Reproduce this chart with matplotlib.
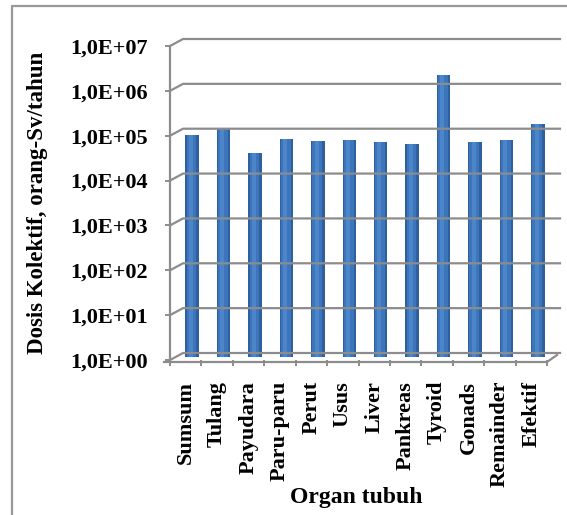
import matplotlib
matplotlib.use("Agg")
import matplotlib.pyplot as plt
from matplotlib.lines import Line2D
from matplotlib.transforms import offset_copy
import numpy as np

# ---- data ----
organs = ["Sumsum", "Tulang", "Payudara", "Paru-paru", "Perut", "Usus",
          "Liver", "Pankreas", "Tyroid", "Gonads", "Remainder", "Efektif"]
dose = [8.5e4, 1.25e5, 3.5e4, 7.0e4, 6.3e4, 6.8e4,
        6.2e4, 5.6e4, 1.9e6, 6.2e4, 6.8e4, 1.55e5]
ytick_vals = [1e0, 1e1, 1e2, 1e3, 1e4, 1e5, 1e6, 1e7]
ytick_labels = ["1,0E+00", "1,0E+01", "1,0E+02", "1,0E+03",
                "1,0E+04", "1,0E+05", "1,0E+06", "1,0E+07"]
ylabel = "Dosis Kolektif, orang-Sv/tahun"
xlabel = "Organ tubuh"

W, H, DPI = 567, 515, 100
fig = plt.figure(figsize=(W / DPI, H / DPI), dpi=DPI)
plt.rcParams['font.family'] = ['Liberation Serif', 'DejaVu Serif']

# front plane of the pseudo-3D box
x0, x1, ytop, ybot = 170, 547, 46, 360
ax = fig.add_axes([x0 / W, (H - ybot) / H, (x1 - x0) / W, (ybot - ytop) / H])
ax.set_yscale('log')
n = len(organs)
ax.set_xlim(-0.5, n - 0.5)
ax.set_ylim(ytick_vals[0], ytick_vals[-1])
for s in ax.spines.values():
    s.set_visible(False)
ax.patch.set_visible(False)

grid_c = '#8c8c8c'
DX, DY = 13, 7  # depth offset in pixels

# back wall gridlines and left-wall diagonals (computed from data scale)
for v in ytick_vals:
    fx, fy = ax.transData.transform((-0.5, v))
    rx, _ = ax.transData.transform((n - 0.5, v))
    fig.add_artist(Line2D([fx, fx + DX, rx + DX], [fy, fy + DY, fy + DY],
                          transform=None, color=grid_c, lw=1.6, zorder=1))
# front y axis line
bx, by = ax.transData.transform((-0.5, ytick_vals[0]))
tx, ty = ax.transData.transform((-0.5, ytick_vals[-1]))
fig.add_artist(Line2D([bx, tx], [by - 2, ty], transform=None, color=grid_c, lw=1.6, zorder=1))
# floor front line and right diagonal
rx, ry = ax.transData.transform((n - 0.5, ytick_vals[0]))
fig.add_artist(Line2D([bx - 6, rx, rx + DX - 3], [by - 2, ry - 2, ry + DY - 2],
                      transform=None, color=grid_c, lw=1.6, zorder=1))

# bars (mid-depth)
xs = np.arange(n)
bar_tr = offset_copy(ax.transData, fig=fig, x=DX / 2, y=DY / 2, units='dots')
wid = 0.43
ax.bar(xs, dose, width=wid, bottom=ytick_vals[0], color='#2e60a0',
       transform=bar_tr, zorder=3, edgecolor='none')
ax.bar(xs - 0.02, dose, width=wid * 0.72, bottom=ytick_vals[0], color='#3d75ba',
       transform=bar_tr, zorder=4, edgecolor='none')
ax.bar(xs - 0.04, dose, width=wid * 0.3, bottom=ytick_vals[0], color='#4c85c9',
       transform=bar_tr, zorder=5, edgecolor='none')

# ticks
ax.set_yticks(ytick_vals)
ax.set_yticklabels(ytick_labels)
ax.yaxis.set_minor_locator(matplotlib.ticker.NullLocator())
ax.tick_params(axis='y', which='major', length=3.8, width=1.4, color=grid_c,
               pad=12, labelsize=16)
for t in ax.get_yticklabels():
    t.set_fontweight('bold')

ax.set_xticks(xs)
ax.set_xticklabels(organs, rotation=90, fontsize=16, fontweight='bold')
ax.set_xticks(np.arange(n + 1) - 0.5, minor=True)
ax.tick_params(axis='x', which='major', length=0, pad=15)
ax.tick_params(axis='x', which='minor', length=4, width=1.4, color=grid_c)

fig.text(38 / W, 1 - 203 / H, ylabel, rotation=90, ha='center', va='center',
         fontsize=16.5, fontweight='bold')
fig.text(356 / W, 1 - 497 / H, xlabel, ha='center', va='center',
         fontsize=17, fontweight='bold')

# outer frame (only top and left visible)
fig.add_artist(Line2D([12 / W, 12 / W, 1], [0, 1 - 6 / H, 1 - 6 / H],
                      transform=fig.transFigure, color='#999999', lw=1.6))

fig.savefig("out.png", dpi=DPI)
